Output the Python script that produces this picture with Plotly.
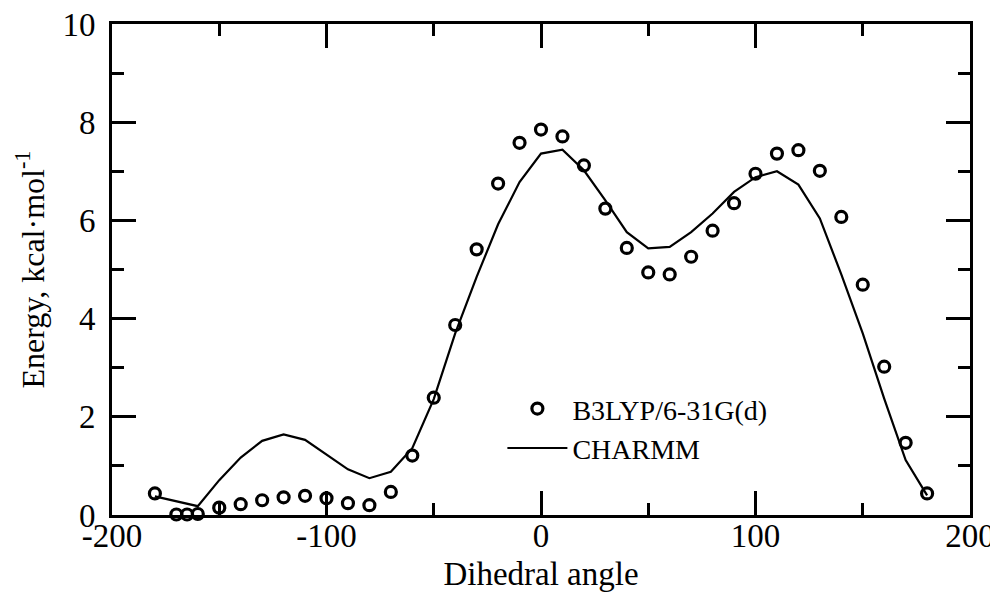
import plotly.graph_objects as go

# B3LYP/6-31G(d) scan (open circles)
b3lyp_angle = [-180, -170, -165, -160, -150, -140, -130, -120, -110, -100, -90, -80,
               -70, -60, -50, -40, -30, -20, -10, 0, 10, 20, 30, 40, 50, 60, 70, 80,
               90, 100, 110, 120, 130, 140, 150, 160, 170, 180]
b3lyp_energy = [0.44, 0.01, 0.01, 0.02, 0.15, 0.22, 0.30, 0.36, 0.39, 0.34, 0.24, 0.20,
                0.47, 1.21, 2.39, 3.87, 5.41, 6.75, 7.58, 7.85, 7.71, 7.12, 6.24, 5.44,
                4.94, 4.90, 5.26, 5.79, 6.35, 6.95, 7.36, 7.43, 7.01, 6.07, 4.69, 3.02,
                1.47, 0.44]

# CHARMM profile (line)
charmm_angle = [-180, -160, -150, -140, -130, -120, -110, -100, -90, -80, -70, -60,
                -50, -40, -30, -20, -10, 0, 10, 20, 30, 40, 50, 60, 70, 80, 90, 100,
                110, 120, 130, 140, 150, 160, 170, 180]
charmm_energy = [0.38, 0.18, 0.71, 1.17, 1.51, 1.64, 1.53, 1.23, 0.93, 0.75, 0.88, 1.36,
                 2.36, 3.70, 4.85, 5.92, 6.78, 7.36, 7.44, 7.02, 6.41, 5.76, 5.43, 5.46,
                 5.76, 6.14, 6.58, 6.88, 7.00, 6.73, 6.04, 4.90, 3.70, 2.37, 1.12, 0.40]

x_ticks = [-200, -100, 0, 100, 200]
y_ticks = [0, 2, 4, 6, 8, 10]

FONT = "Liberation Serif, Times New Roman, serif"

fig = go.Figure()
fig.add_trace(go.Scatter(
    x=b3lyp_angle, y=b3lyp_energy, mode="markers", name="B3LYP/6-31G(d)",
    marker=dict(symbol="circle-open", size=11, color="black", line=dict(width=3.2, color="black")),
    cliponaxis=False,
))
fig.add_trace(go.Scatter(
    x=charmm_angle, y=charmm_energy, mode="lines", name="CHARMM",
    line=dict(color="black", width=2.2),
    cliponaxis=False,
))

axis_common = dict(
    showline=True, linecolor="black", linewidth=3, mirror="allticks",
    ticks="inside", ticklen=24, tickwidth=3, tickcolor="black",
    showgrid=False, zeroline=False,
    ticklabeloverflow="allow",
    tickfont=dict(family=FONT, size=33, color="black"),
)

fig.update_xaxes(
    range=[-200, 200], tickvals=x_ticks, ticktext=[str(v) for v in x_ticks],
    minor=dict(ticks="inside", ticklen=12, tickwidth=3, tickcolor="black", dtick=50, tick0=0, showgrid=False),
    title=dict(text="Dihedral angle", font=dict(family=FONT, size=33, color="black"), standoff=19),
    ticklabelstandoff=-11,
    **axis_common,
)
fig.update_yaxes(
    range=[0, 10], tickvals=y_ticks, ticktext=[str(v) for v in y_ticks],
    minor=dict(ticks="inside", ticklen=12, tickwidth=3, tickcolor="black", dtick=1, tick0=0, showgrid=False),
    title=dict(text="Energy, kcal·mol<sup>-1</sup>", font=dict(family=FONT, size=32, color="black"), standoff=9),
    ticklabelstandoff=7,
    **axis_common,
)

fig.update_layout(
    width=990, height=584, autosize=False,
    margin=dict(l=104, r=28, t=16, b=77, autoexpand=False),
    paper_bgcolor="white", plot_bgcolor="white",
    font=dict(family=FONT, color="black"),
    showlegend=True,
    legend=dict(
        x=0.455, y=0.267, xanchor="left", yanchor="top",
        bgcolor="rgba(0,0,0,0)", borderwidth=0,
        itemwidth=60, tracegroupgap=0,
        font=dict(family=FONT, size=28, color="black"),
    ),
)

fig.write_html("out.html")
